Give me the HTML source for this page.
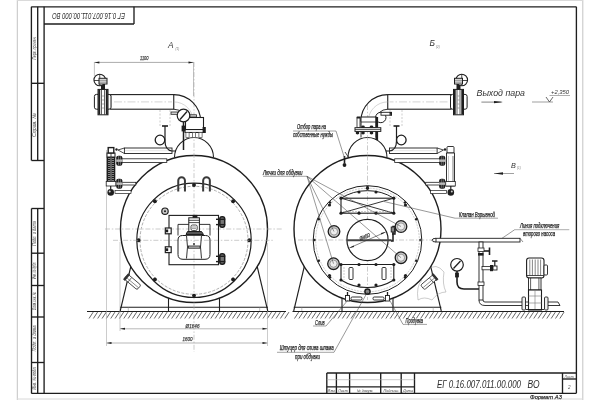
<!DOCTYPE html>
<html><head><meta charset="utf-8"><style>
html,body{margin:0;padding:0;background:#fff;width:600px;height:400px;overflow:hidden}
svg{display:block;will-change:transform}
text{font-family:"Liberation Sans",sans-serif}
</style></head><body>
<svg width="600" height="400" viewBox="0 0 600 400">
<rect width="600" height="400" fill="#fff"/>
<line x1="17.3" y1="0" x2="17.3" y2="400" stroke="#c4c4c4" stroke-width="1"/>
<line x1="582.8" y1="0" x2="582.8" y2="400" stroke="#c4c4c4" stroke-width="1"/>
<line x1="17" y1="0.5" x2="583" y2="0.5" stroke="#dadada" stroke-width="1"/>
<line x1="17" y1="399" x2="583" y2="399" stroke="#d8d8d8" stroke-width="1"/>
<line x1="31.3" y1="6.8" x2="576.4" y2="6.8" stroke="#1e1e1e" stroke-width="1.35"/>
<line x1="576.4" y1="6.8" x2="576.4" y2="393.3" stroke="#1e1e1e" stroke-width="1.35"/>
<line x1="31.3" y1="393.3" x2="576.4" y2="393.3" stroke="#1e1e1e" stroke-width="1.35"/>
<line x1="44.1" y1="6.8" x2="44.1" y2="393.3" stroke="#1e1e1e" stroke-width="1.35"/>
<line x1="31.4" y1="6.8" x2="31.4" y2="160.5" stroke="#1e1e1e" stroke-width="1.35"/>
<line x1="37.7" y1="6.8" x2="37.7" y2="160.5" stroke="#1e1e1e" stroke-width="1.35"/>
<line x1="31.5" y1="83.3" x2="44" y2="83.3" stroke="#1e1e1e" stroke-width="1.35"/>
<line x1="31.5" y1="160.5" x2="44" y2="160.5" stroke="#1e1e1e" stroke-width="1.35"/>
<line x1="31.5" y1="208.5" x2="31.5" y2="393.3" stroke="#1e1e1e" stroke-width="1.35"/>
<line x1="37.7" y1="208.5" x2="37.7" y2="393.3" stroke="#1e1e1e" stroke-width="1.35"/>
<line x1="31.5" y1="208.5" x2="44" y2="208.5" stroke="#1e1e1e" stroke-width="1.35"/>
<line x1="31.5" y1="253.2" x2="44" y2="253.2" stroke="#1e1e1e" stroke-width="1.35"/>
<line x1="31.5" y1="285.5" x2="44" y2="285.5" stroke="#1e1e1e" stroke-width="1.35"/>
<line x1="31.5" y1="317" x2="44" y2="317" stroke="#1e1e1e" stroke-width="1.35"/>
<line x1="31.5" y1="362.5" x2="44" y2="362.5" stroke="#1e1e1e" stroke-width="1.35"/>
<line x1="134" y1="6.8" x2="134" y2="24" stroke="#1e1e1e" stroke-width="1.35"/>
<line x1="44" y1="24" x2="134" y2="24" stroke="#1e1e1e" stroke-width="1.35"/>
<text x="52" y="19" font-size="8.2" text-anchor="start" fill="#2a2a2a" font-style="italic" font-weight="normal" transform="rotate(180 88.5 16)" textLength="73" lengthAdjust="spacingAndGlyphs">ЕГ 0.16.007.011.00.000  ВО</text>
<text x="-48" y="36.4" font-size="5" text-anchor="middle" fill="#444" font-style="italic" transform="rotate(-90)" textLength="23" lengthAdjust="spacingAndGlyphs">Перв. примен.</text>
<text x="-125" y="36.4" font-size="5" text-anchor="middle" fill="#444" font-style="italic" transform="rotate(-90)" textLength="24" lengthAdjust="spacingAndGlyphs">Справ. №</text>
<text x="-233.5" y="36.4" font-size="5" text-anchor="middle" fill="#444" font-style="italic" transform="rotate(-90)" textLength="25" lengthAdjust="spacingAndGlyphs">Подп. и дата</text>
<text x="-270.5" y="36.4" font-size="5" text-anchor="middle" fill="#444" font-style="italic" transform="rotate(-90)" textLength="17" lengthAdjust="spacingAndGlyphs">Инв. № дубл.</text>
<text x="-301" y="36.4" font-size="5" text-anchor="middle" fill="#444" font-style="italic" transform="rotate(-90)" textLength="18" lengthAdjust="spacingAndGlyphs">Взам. инв. №</text>
<text x="-338.5" y="36.4" font-size="5" text-anchor="middle" fill="#444" font-style="italic" transform="rotate(-90)" textLength="26" lengthAdjust="spacingAndGlyphs">Подп. и дата</text>
<text x="-378" y="36.4" font-size="5" text-anchor="middle" fill="#444" font-style="italic" transform="rotate(-90)" textLength="23" lengthAdjust="spacingAndGlyphs">Инв. № подл.</text>
<line x1="326.8" y1="373" x2="576" y2="373" stroke="#1e1e1e" stroke-width="1.35"/>
<line x1="326.8" y1="373" x2="326.8" y2="393.3" stroke="#1e1e1e" stroke-width="1.35"/>
<line x1="336.4" y1="373" x2="336.4" y2="393.3" stroke="#1e1e1e" stroke-width="1.35"/>
<line x1="349.6" y1="373" x2="349.6" y2="393.3" stroke="#1e1e1e" stroke-width="1.35"/>
<line x1="380.7" y1="373" x2="380.7" y2="393.3" stroke="#1e1e1e" stroke-width="1.35"/>
<line x1="401.2" y1="373" x2="401.2" y2="393.3" stroke="#1e1e1e" stroke-width="1.35"/>
<line x1="414.5" y1="373" x2="414.5" y2="393.3" stroke="#1e1e1e" stroke-width="1.35"/>
<line x1="326.8" y1="379.7" x2="414.5" y2="379.7" stroke="#aaa" stroke-width="0.6"/>
<line x1="326.8" y1="386.8" x2="414.5" y2="386.8" stroke="#1e1e1e" stroke-width="1.35"/>
<line x1="562.5" y1="373" x2="562.5" y2="393.3" stroke="#1e1e1e" stroke-width="1.35"/>
<line x1="562.5" y1="379" x2="576" y2="379" stroke="#1e1e1e" stroke-width="1.35"/>
<text x="331.6" y="391.6" font-size="3.8" text-anchor="middle" fill="#444" font-style="italic" font-weight="normal">Изм.</text>
<text x="343" y="391.6" font-size="3.8" text-anchor="middle" fill="#444" font-style="italic" font-weight="normal">Лист</text>
<text x="365" y="391.6" font-size="3.8" text-anchor="middle" fill="#444" font-style="italic" font-weight="normal">№ докум.</text>
<text x="391" y="391.6" font-size="3.8" text-anchor="middle" fill="#444" font-style="italic" font-weight="normal">Подпись</text>
<text x="408" y="391.6" font-size="3.8" text-anchor="middle" fill="#444" font-style="italic" font-weight="normal">Дата</text>
<text x="569.2" y="377.6" font-size="3.6" text-anchor="middle" fill="#555" font-style="italic" font-weight="normal">Лист</text>
<text x="569.2" y="388.5" font-size="4.5" text-anchor="middle" fill="#555" font-style="italic" font-weight="normal">2</text>
<text x="437" y="387.5" font-size="11.6" text-anchor="start" fill="#2a2a2a" font-style="italic" font-weight="normal" textLength="84" lengthAdjust="spacingAndGlyphs">ЕГ 0.16.007.011.00.000</text>
<text x="527.5" y="387.5" font-size="11.6" text-anchor="start" fill="#2a2a2a" font-style="italic" font-weight="normal" textLength="12" lengthAdjust="spacingAndGlyphs">ВО</text>
<text x="530" y="398.6" font-size="6.2" text-anchor="start" fill="#333" font-style="italic" font-weight="normal" stroke="#333" stroke-width="0.25" textLength="32" lengthAdjust="spacingAndGlyphs">Формат  А3</text>
<line x1="87" y1="311.5" x2="286" y2="311.5" stroke="#1e1e1e" stroke-width="1.1"/>
<line x1="89" y1="318.5" x2="93.2" y2="312.1" stroke="#333" stroke-width="0.75"/>
<line x1="93.35" y1="318.5" x2="97.55" y2="312.1" stroke="#333" stroke-width="0.75"/>
<line x1="97.69999999999999" y1="318.5" x2="101.89999999999999" y2="312.1" stroke="#333" stroke-width="0.75"/>
<line x1="102.04999999999998" y1="318.5" x2="106.24999999999999" y2="312.1" stroke="#333" stroke-width="0.75"/>
<line x1="106.39999999999998" y1="318.5" x2="110.59999999999998" y2="312.1" stroke="#333" stroke-width="0.75"/>
<line x1="110.74999999999997" y1="318.5" x2="114.94999999999997" y2="312.1" stroke="#333" stroke-width="0.75"/>
<line x1="115.09999999999997" y1="318.5" x2="119.29999999999997" y2="312.1" stroke="#333" stroke-width="0.75"/>
<line x1="119.44999999999996" y1="318.5" x2="123.64999999999996" y2="312.1" stroke="#333" stroke-width="0.75"/>
<line x1="123.79999999999995" y1="318.5" x2="127.99999999999996" y2="312.1" stroke="#333" stroke-width="0.75"/>
<line x1="128.14999999999995" y1="318.5" x2="132.34999999999994" y2="312.1" stroke="#333" stroke-width="0.75"/>
<line x1="132.49999999999994" y1="318.5" x2="136.69999999999993" y2="312.1" stroke="#333" stroke-width="0.75"/>
<line x1="136.84999999999994" y1="318.5" x2="141.04999999999993" y2="312.1" stroke="#333" stroke-width="0.75"/>
<line x1="141.19999999999993" y1="318.5" x2="145.39999999999992" y2="312.1" stroke="#333" stroke-width="0.75"/>
<line x1="145.54999999999993" y1="318.5" x2="149.74999999999991" y2="312.1" stroke="#333" stroke-width="0.75"/>
<line x1="149.89999999999992" y1="318.5" x2="154.0999999999999" y2="312.1" stroke="#333" stroke-width="0.75"/>
<line x1="154.24999999999991" y1="318.5" x2="158.4499999999999" y2="312.1" stroke="#333" stroke-width="0.75"/>
<line x1="158.5999999999999" y1="318.5" x2="162.7999999999999" y2="312.1" stroke="#333" stroke-width="0.75"/>
<line x1="162.9499999999999" y1="318.5" x2="167.1499999999999" y2="312.1" stroke="#333" stroke-width="0.75"/>
<line x1="167.2999999999999" y1="318.5" x2="171.4999999999999" y2="312.1" stroke="#333" stroke-width="0.75"/>
<line x1="171.6499999999999" y1="318.5" x2="175.84999999999988" y2="312.1" stroke="#333" stroke-width="0.75"/>
<line x1="175.9999999999999" y1="318.5" x2="180.19999999999987" y2="312.1" stroke="#333" stroke-width="0.75"/>
<line x1="180.34999999999988" y1="318.5" x2="184.54999999999987" y2="312.1" stroke="#333" stroke-width="0.75"/>
<line x1="184.69999999999987" y1="318.5" x2="188.89999999999986" y2="312.1" stroke="#333" stroke-width="0.75"/>
<line x1="189.04999999999987" y1="318.5" x2="193.24999999999986" y2="312.1" stroke="#333" stroke-width="0.75"/>
<line x1="193.39999999999986" y1="318.5" x2="197.59999999999985" y2="312.1" stroke="#333" stroke-width="0.75"/>
<line x1="197.74999999999986" y1="318.5" x2="201.94999999999985" y2="312.1" stroke="#333" stroke-width="0.75"/>
<line x1="202.09999999999985" y1="318.5" x2="206.29999999999984" y2="312.1" stroke="#333" stroke-width="0.75"/>
<line x1="206.44999999999985" y1="318.5" x2="210.64999999999984" y2="312.1" stroke="#333" stroke-width="0.75"/>
<line x1="210.79999999999984" y1="318.5" x2="214.99999999999983" y2="312.1" stroke="#333" stroke-width="0.75"/>
<line x1="215.14999999999984" y1="318.5" x2="219.34999999999982" y2="312.1" stroke="#333" stroke-width="0.75"/>
<line x1="219.49999999999983" y1="318.5" x2="223.69999999999982" y2="312.1" stroke="#333" stroke-width="0.75"/>
<line x1="223.84999999999982" y1="318.5" x2="228.0499999999998" y2="312.1" stroke="#333" stroke-width="0.75"/>
<line x1="228.19999999999982" y1="318.5" x2="232.3999999999998" y2="312.1" stroke="#333" stroke-width="0.75"/>
<line x1="232.5499999999998" y1="318.5" x2="236.7499999999998" y2="312.1" stroke="#333" stroke-width="0.75"/>
<line x1="236.8999999999998" y1="318.5" x2="241.0999999999998" y2="312.1" stroke="#333" stroke-width="0.75"/>
<line x1="241.2499999999998" y1="318.5" x2="245.4499999999998" y2="312.1" stroke="#333" stroke-width="0.75"/>
<line x1="245.5999999999998" y1="318.5" x2="249.79999999999978" y2="312.1" stroke="#333" stroke-width="0.75"/>
<line x1="249.9499999999998" y1="318.5" x2="254.14999999999978" y2="312.1" stroke="#333" stroke-width="0.75"/>
<line x1="254.29999999999978" y1="318.5" x2="258.4999999999998" y2="312.1" stroke="#333" stroke-width="0.75"/>
<line x1="258.6499999999998" y1="318.5" x2="262.8499999999998" y2="312.1" stroke="#333" stroke-width="0.75"/>
<line x1="262.99999999999983" y1="318.5" x2="267.1999999999998" y2="312.1" stroke="#333" stroke-width="0.75"/>
<line x1="267.34999999999985" y1="318.5" x2="271.54999999999984" y2="312.1" stroke="#333" stroke-width="0.75"/>
<line x1="271.6999999999999" y1="318.5" x2="275.89999999999986" y2="312.1" stroke="#333" stroke-width="0.75"/>
<line x1="276.0499999999999" y1="318.5" x2="280.2499999999999" y2="312.1" stroke="#333" stroke-width="0.75"/>
<line x1="280.3999999999999" y1="318.5" x2="284.5999999999999" y2="312.1" stroke="#333" stroke-width="0.75"/>
<line x1="284.74999999999994" y1="318.5" x2="288.94999999999993" y2="312.1" stroke="#333" stroke-width="0.75"/>
<line x1="292.5" y1="311.5" x2="564" y2="311.5" stroke="#1e1e1e" stroke-width="1.1"/>
<line x1="294.5" y1="318.5" x2="298.7" y2="312.1" stroke="#333" stroke-width="0.75"/>
<line x1="298.85" y1="318.5" x2="303.05" y2="312.1" stroke="#333" stroke-width="0.75"/>
<line x1="303.20000000000005" y1="318.5" x2="307.40000000000003" y2="312.1" stroke="#333" stroke-width="0.75"/>
<line x1="307.55000000000007" y1="318.5" x2="311.75000000000006" y2="312.1" stroke="#333" stroke-width="0.75"/>
<line x1="311.9000000000001" y1="318.5" x2="316.1000000000001" y2="312.1" stroke="#333" stroke-width="0.75"/>
<line x1="316.2500000000001" y1="318.5" x2="320.4500000000001" y2="312.1" stroke="#333" stroke-width="0.75"/>
<line x1="320.60000000000014" y1="318.5" x2="324.8000000000001" y2="312.1" stroke="#333" stroke-width="0.75"/>
<line x1="324.95000000000016" y1="318.5" x2="329.15000000000015" y2="312.1" stroke="#333" stroke-width="0.75"/>
<line x1="329.3000000000002" y1="318.5" x2="333.50000000000017" y2="312.1" stroke="#333" stroke-width="0.75"/>
<line x1="333.6500000000002" y1="318.5" x2="337.8500000000002" y2="312.1" stroke="#333" stroke-width="0.75"/>
<line x1="338.0000000000002" y1="318.5" x2="342.2000000000002" y2="312.1" stroke="#333" stroke-width="0.75"/>
<line x1="342.35000000000025" y1="318.5" x2="346.55000000000024" y2="312.1" stroke="#333" stroke-width="0.75"/>
<line x1="346.7000000000003" y1="318.5" x2="350.90000000000026" y2="312.1" stroke="#333" stroke-width="0.75"/>
<line x1="351.0500000000003" y1="318.5" x2="355.2500000000003" y2="312.1" stroke="#333" stroke-width="0.75"/>
<line x1="355.4000000000003" y1="318.5" x2="359.6000000000003" y2="312.1" stroke="#333" stroke-width="0.75"/>
<line x1="359.75000000000034" y1="318.5" x2="363.95000000000033" y2="312.1" stroke="#333" stroke-width="0.75"/>
<line x1="364.10000000000036" y1="318.5" x2="368.30000000000035" y2="312.1" stroke="#333" stroke-width="0.75"/>
<line x1="368.4500000000004" y1="318.5" x2="372.6500000000004" y2="312.1" stroke="#333" stroke-width="0.75"/>
<line x1="372.8000000000004" y1="318.5" x2="377.0000000000004" y2="312.1" stroke="#333" stroke-width="0.75"/>
<line x1="377.15000000000043" y1="318.5" x2="381.3500000000004" y2="312.1" stroke="#333" stroke-width="0.75"/>
<line x1="381.50000000000045" y1="318.5" x2="385.70000000000044" y2="312.1" stroke="#333" stroke-width="0.75"/>
<line x1="385.8500000000005" y1="318.5" x2="390.05000000000047" y2="312.1" stroke="#333" stroke-width="0.75"/>
<line x1="390.2000000000005" y1="318.5" x2="394.4000000000005" y2="312.1" stroke="#333" stroke-width="0.75"/>
<line x1="394.5500000000005" y1="318.5" x2="398.7500000000005" y2="312.1" stroke="#333" stroke-width="0.75"/>
<line x1="398.90000000000055" y1="318.5" x2="403.10000000000053" y2="312.1" stroke="#333" stroke-width="0.75"/>
<line x1="403.25000000000057" y1="318.5" x2="407.45000000000056" y2="312.1" stroke="#333" stroke-width="0.75"/>
<line x1="407.6000000000006" y1="318.5" x2="411.8000000000006" y2="312.1" stroke="#333" stroke-width="0.75"/>
<line x1="411.9500000000006" y1="318.5" x2="416.1500000000006" y2="312.1" stroke="#333" stroke-width="0.75"/>
<line x1="416.30000000000064" y1="318.5" x2="420.5000000000006" y2="312.1" stroke="#333" stroke-width="0.75"/>
<line x1="420.65000000000066" y1="318.5" x2="424.85000000000065" y2="312.1" stroke="#333" stroke-width="0.75"/>
<line x1="425.0000000000007" y1="318.5" x2="429.20000000000067" y2="312.1" stroke="#333" stroke-width="0.75"/>
<line x1="429.3500000000007" y1="318.5" x2="433.5500000000007" y2="312.1" stroke="#333" stroke-width="0.75"/>
<line x1="433.7000000000007" y1="318.5" x2="437.9000000000007" y2="312.1" stroke="#333" stroke-width="0.75"/>
<line x1="438.05000000000075" y1="318.5" x2="442.25000000000074" y2="312.1" stroke="#333" stroke-width="0.75"/>
<line x1="442.4000000000008" y1="318.5" x2="446.60000000000076" y2="312.1" stroke="#333" stroke-width="0.75"/>
<line x1="446.7500000000008" y1="318.5" x2="450.9500000000008" y2="312.1" stroke="#333" stroke-width="0.75"/>
<line x1="451.1000000000008" y1="318.5" x2="455.3000000000008" y2="312.1" stroke="#333" stroke-width="0.75"/>
<line x1="455.45000000000084" y1="318.5" x2="459.65000000000083" y2="312.1" stroke="#333" stroke-width="0.75"/>
<line x1="459.80000000000086" y1="318.5" x2="464.00000000000085" y2="312.1" stroke="#333" stroke-width="0.75"/>
<line x1="464.1500000000009" y1="318.5" x2="468.3500000000009" y2="312.1" stroke="#333" stroke-width="0.75"/>
<line x1="468.5000000000009" y1="318.5" x2="472.7000000000009" y2="312.1" stroke="#333" stroke-width="0.75"/>
<line x1="472.85000000000093" y1="318.5" x2="477.0500000000009" y2="312.1" stroke="#333" stroke-width="0.75"/>
<line x1="477.20000000000095" y1="318.5" x2="481.40000000000094" y2="312.1" stroke="#333" stroke-width="0.75"/>
<line x1="481.550000000001" y1="318.5" x2="485.75000000000097" y2="312.1" stroke="#333" stroke-width="0.75"/>
<line x1="485.900000000001" y1="318.5" x2="490.100000000001" y2="312.1" stroke="#333" stroke-width="0.75"/>
<line x1="490.250000000001" y1="318.5" x2="494.450000000001" y2="312.1" stroke="#333" stroke-width="0.75"/>
<line x1="494.60000000000105" y1="318.5" x2="498.80000000000103" y2="312.1" stroke="#333" stroke-width="0.75"/>
<line x1="498.95000000000107" y1="318.5" x2="503.15000000000106" y2="312.1" stroke="#333" stroke-width="0.75"/>
<line x1="503.3000000000011" y1="318.5" x2="507.5000000000011" y2="312.1" stroke="#333" stroke-width="0.75"/>
<line x1="507.6500000000011" y1="318.5" x2="511.8500000000011" y2="312.1" stroke="#333" stroke-width="0.75"/>
<line x1="512.0000000000011" y1="318.5" x2="516.2000000000012" y2="312.1" stroke="#333" stroke-width="0.75"/>
<line x1="516.3500000000012" y1="318.5" x2="520.5500000000012" y2="312.1" stroke="#333" stroke-width="0.75"/>
<line x1="520.7000000000012" y1="318.5" x2="524.9000000000012" y2="312.1" stroke="#333" stroke-width="0.75"/>
<line x1="525.0500000000012" y1="318.5" x2="529.2500000000013" y2="312.1" stroke="#333" stroke-width="0.75"/>
<line x1="529.4000000000012" y1="318.5" x2="533.6000000000013" y2="312.1" stroke="#333" stroke-width="0.75"/>
<line x1="533.7500000000013" y1="318.5" x2="537.9500000000013" y2="312.1" stroke="#333" stroke-width="0.75"/>
<line x1="538.1000000000013" y1="318.5" x2="542.3000000000013" y2="312.1" stroke="#333" stroke-width="0.75"/>
<line x1="542.4500000000013" y1="318.5" x2="546.6500000000013" y2="312.1" stroke="#333" stroke-width="0.75"/>
<line x1="546.8000000000013" y1="318.5" x2="551.0000000000014" y2="312.1" stroke="#333" stroke-width="0.75"/>
<line x1="551.1500000000013" y1="318.5" x2="555.3500000000014" y2="312.1" stroke="#333" stroke-width="0.75"/>
<line x1="555.5000000000014" y1="318.5" x2="559.7000000000014" y2="312.1" stroke="#333" stroke-width="0.75"/>
<line x1="559.8500000000014" y1="318.5" x2="564.0500000000014" y2="312.1" stroke="#333" stroke-width="0.75"/>
<line x1="94.4" y1="62.4" x2="193.5" y2="62.4" stroke="#888" stroke-width="0.7"/>
<polygon points="94.4,62.4 99.4,61.4 99.4,63.4" fill="#1e1e1e"/>
<polygon points="193.5,62.4 188.5,61.4 188.5,63.4" fill="#1e1e1e"/>
<line x1="94.4" y1="62" x2="94.4" y2="76" stroke="#999" stroke-width="0.6"/>
<line x1="193.5" y1="62" x2="193.5" y2="96" stroke="#999" stroke-width="0.6"/>
<text x="140" y="60.4" font-size="6" text-anchor="start" fill="#444" font-style="italic" font-weight="normal" stroke="#444" stroke-width="0.25" textLength="8.5" lengthAdjust="spacingAndGlyphs">1100</text>
<line x1="120" y1="328.8" x2="267.5" y2="328.8" stroke="#999" stroke-width="0.7"/>
<polygon points="120,328.8 125,327.8 125,329.8" fill="#1e1e1e"/>
<polygon points="267.5,328.8 262.5,327.8 262.5,329.8" fill="#1e1e1e"/>
<line x1="106.5" y1="343" x2="267.5" y2="343" stroke="#999" stroke-width="0.7"/>
<polygon points="106.5,343 111.5,342 111.5,344" fill="#1e1e1e"/>
<polygon points="267.5,343 262.5,342 262.5,344" fill="#1e1e1e"/>
<line x1="106.5" y1="150" x2="106.5" y2="346" stroke="#aaa" stroke-width="0.6"/>
<line x1="120" y1="242" x2="120" y2="331" stroke="#aaa" stroke-width="0.6"/>
<line x1="267.5" y1="243" x2="267.5" y2="346" stroke="#aaa" stroke-width="0.6"/>
<text x="185.5" y="327.5" font-size="6" text-anchor="start" fill="#444" font-style="italic" font-weight="normal" stroke="#444" stroke-width="0.25" textLength="14" lengthAdjust="spacingAndGlyphs">Ø1646</text>
<text x="182.5" y="340.5" font-size="6" text-anchor="start" fill="#444" font-style="italic" font-weight="normal" stroke="#444" stroke-width="0.25" textLength="10" lengthAdjust="spacingAndGlyphs">1600</text>
<text x="168" y="48.2" font-size="8.4" text-anchor="start" fill="#333" font-style="italic" font-weight="normal">А</text>
<text x="175.5" y="50" font-size="3" text-anchor="start" fill="#777" font-style="italic" font-weight="normal">(1)</text>
<text x="429.5" y="46.2" font-size="8.4" text-anchor="start" fill="#333" font-style="italic" font-weight="normal">Б</text>
<text x="436" y="48" font-size="3" text-anchor="start" fill="#777" font-style="italic" font-weight="normal">(2)</text>
<text x="511" y="167.5" font-size="7.2" text-anchor="start" fill="#333" font-style="italic" font-weight="normal">В</text>
<text x="517" y="169" font-size="3" text-anchor="start" fill="#777" font-style="italic" font-weight="normal">(1)</text>
<line x1="481.4" y1="102.1" x2="501.5" y2="102.1" stroke="#666" stroke-width="0.8"/>
<polygon points="503,102.1 494,100.9 494,103.3" fill="#1e1e1e"/>
<line x1="494" y1="173.5" x2="514" y2="173.5" stroke="#888" stroke-width="0.8"/>
<polygon points="494,173.5 503,172.3 503,174.7" fill="#1e1e1e"/>
<text x="476.5" y="96.2" font-size="9.6" text-anchor="start" fill="#333" font-style="italic" font-weight="normal" textLength="48.5" lengthAdjust="spacingAndGlyphs">Выход пара</text>
<line x1="532" y1="102" x2="553" y2="102" stroke="#777" stroke-width="0.7"/>
<polyline points="546,97 549.5,102 553,97" stroke="#444" stroke-width="0.8" fill="none"/>
<line x1="549.5" y1="95.5" x2="570" y2="95.5" stroke="#777" stroke-width="0.6"/>
<text x="551" y="94.2" font-size="5.4" text-anchor="start" fill="#333" font-style="italic" font-weight="normal" textLength="18" lengthAdjust="spacingAndGlyphs">+2,350</text>
<polyline points="120.2,311 131.4,264" stroke="#1e1e1e" stroke-width="1.1" fill="none"/>
<polyline points="267.8,311 256.6,264" stroke="#1e1e1e" stroke-width="1.1" fill="none"/>
<line x1="120.2" y1="307.3" x2="267.8" y2="307.3" stroke="#1e1e1e" stroke-width="1.1"/>
<line x1="168.5" y1="297" x2="168.5" y2="311" stroke="#1e1e1e" stroke-width="1.1"/>
<line x1="219.5" y1="297" x2="219.5" y2="311" stroke="#1e1e1e" stroke-width="1.1"/>
<line x1="128.3" y1="307.3" x2="128.3" y2="311" stroke="#888" stroke-width="0.5"/>
<line x1="259.7" y1="307.3" x2="259.7" y2="311" stroke="#888" stroke-width="0.5"/>
<circle cx="194" cy="229" r="73.5" stroke="#1e1e1e" stroke-width="1.4" fill="#fff"/>
<path d="M174.5,157.5 A19.5,20 0 0 1 213.5,157.5" stroke="#1e1e1e" stroke-width="1.1" fill="none"/>
<rect x="124.4" y="148" width="47.6" height="5.5" rx="0" stroke="#1e1e1e" stroke-width="0.9" fill="#fff"/>
<line x1="124.4" y1="150.7" x2="172" y2="150.7" stroke="#bbb" stroke-width="0.4"/>
<path d="M124.4,148 L118,150 L124.4,153.5" stroke="#1e1e1e" stroke-width="0.8" fill="none"/>
<circle cx="116.5" cy="149.5" r="1.2" fill="#1e1e1e"/>
<rect x="121" y="158.8" width="45.8" height="3.7" rx="0" stroke="#1e1e1e" stroke-width="0.8" fill="#fff"/>
<rect x="116.2" y="155.65" width="6.2" height="10" rx="2.2" fill="#1e1e1e"/>
<rect x="118.0" y="156.15" width="0.7" height="9" fill="#888"/><rect x="119.89999999999999" y="156.15" width="0.7" height="9" fill="#888"/>
<rect x="116.2" y="159.45000000000002" width="6.2" height="2.4" fill="#bbb"/>
<rect x="121" y="182.3" width="14.8" height="2.7" rx="0" stroke="#1e1e1e" stroke-width="0.8" fill="#fff"/>
<rect x="116.2" y="178.65" width="6.2" height="10" rx="2.2" fill="#1e1e1e"/>
<rect x="118.0" y="179.15" width="0.7" height="9" fill="#888"/><rect x="119.89999999999999" y="179.15" width="0.7" height="9" fill="#888"/>
<rect x="116.2" y="182.45000000000002" width="6.2" height="2.4" fill="#bbb"/>
<rect x="115" y="190.5" width="16" height="3.0" rx="0" stroke="#1e1e1e" stroke-width="0.7" fill="#fff"/>
<circle cx="110.7" cy="192.4" r="3.3" fill="#1e1e1e"/>
<circle cx="109.7" cy="191.4" r="1.0" fill="#ccc"/>
<line x1="110.7" y1="186" x2="110.7" y2="189" stroke="#1e1e1e" stroke-width="1.2"/>
<rect x="107" y="153" width="8" height="4" rx="0" stroke="#1e1e1e" stroke-width="1.0" fill="#fff"/>
<line x1="111.0" y1="153" x2="111.0" y2="157" stroke="#1e1e1e" stroke-width="0.8"/>
<rect x="106.7" y="157" width="8.6" height="24.5" fill="#1e1e1e"/>
<line x1="111.0" y1="157.5" x2="111.0" y2="181" stroke="#eee" stroke-width="0.6"/>
<line x1="108" y1="158.5" x2="110.2" y2="158.5" stroke="#ccc" stroke-width="0.6"/>
<line x1="111.8" y1="158.5" x2="114" y2="158.5" stroke="#ccc" stroke-width="0.6"/>
<line x1="108" y1="160.5" x2="110.2" y2="160.5" stroke="#ccc" stroke-width="0.6"/>
<line x1="111.8" y1="160.5" x2="114" y2="160.5" stroke="#ccc" stroke-width="0.6"/>
<line x1="108" y1="162.5" x2="110.2" y2="162.5" stroke="#ccc" stroke-width="0.6"/>
<line x1="111.8" y1="162.5" x2="114" y2="162.5" stroke="#ccc" stroke-width="0.6"/>
<line x1="108" y1="164.5" x2="110.2" y2="164.5" stroke="#ccc" stroke-width="0.6"/>
<line x1="111.8" y1="164.5" x2="114" y2="164.5" stroke="#ccc" stroke-width="0.6"/>
<line x1="108" y1="166.5" x2="110.2" y2="166.5" stroke="#ccc" stroke-width="0.6"/>
<line x1="111.8" y1="166.5" x2="114" y2="166.5" stroke="#ccc" stroke-width="0.6"/>
<line x1="108" y1="168.5" x2="110.2" y2="168.5" stroke="#ccc" stroke-width="0.6"/>
<line x1="111.8" y1="168.5" x2="114" y2="168.5" stroke="#ccc" stroke-width="0.6"/>
<line x1="108" y1="170.5" x2="110.2" y2="170.5" stroke="#ccc" stroke-width="0.6"/>
<line x1="111.8" y1="170.5" x2="114" y2="170.5" stroke="#ccc" stroke-width="0.6"/>
<line x1="108" y1="172.5" x2="110.2" y2="172.5" stroke="#ccc" stroke-width="0.6"/>
<line x1="111.8" y1="172.5" x2="114" y2="172.5" stroke="#ccc" stroke-width="0.6"/>
<line x1="108" y1="174.5" x2="110.2" y2="174.5" stroke="#ccc" stroke-width="0.6"/>
<line x1="111.8" y1="174.5" x2="114" y2="174.5" stroke="#ccc" stroke-width="0.6"/>
<line x1="108" y1="176.5" x2="110.2" y2="176.5" stroke="#ccc" stroke-width="0.6"/>
<line x1="111.8" y1="176.5" x2="114" y2="176.5" stroke="#ccc" stroke-width="0.6"/>
<line x1="108" y1="178.5" x2="110.2" y2="178.5" stroke="#ccc" stroke-width="0.6"/>
<line x1="111.8" y1="178.5" x2="114" y2="178.5" stroke="#ccc" stroke-width="0.6"/>
<line x1="108" y1="180.5" x2="110.2" y2="180.5" stroke="#ccc" stroke-width="0.6"/>
<line x1="111.8" y1="180.5" x2="114" y2="180.5" stroke="#ccc" stroke-width="0.6"/>
<rect x="108.2" y="147.6" width="5.6" height="5.4" rx="0" stroke="#1e1e1e" stroke-width="1.4" fill="#fff"/>
<rect x="106.2" y="181.5" width="9.6" height="4.5" rx="0" stroke="#1e1e1e" stroke-width="0.8" fill="#fff"/>
<line x1="194" y1="62" x2="194" y2="352" stroke="#a8a8a8" stroke-width="0.6" stroke-dasharray="5 1.8 1.5 1.8"/>
<line x1="105" y1="229" x2="283" y2="229" stroke="#a8a8a8" stroke-width="0.6" stroke-dasharray="5 1.8 1.5 1.8"/>
<polyline points="441.3,311 430.1,264" stroke="#1e1e1e" stroke-width="1.1" fill="none"/>
<polyline points="293.7,311 304.9,264" stroke="#1e1e1e" stroke-width="1.1" fill="none"/>
<line x1="293.7" y1="307.3" x2="441.3" y2="307.3" stroke="#1e1e1e" stroke-width="1.1"/>
<line x1="393.0" y1="297" x2="393.0" y2="311" stroke="#1e1e1e" stroke-width="1.1"/>
<line x1="342.0" y1="297" x2="342.0" y2="311" stroke="#1e1e1e" stroke-width="1.1"/>
<line x1="433.2" y1="307.3" x2="433.2" y2="311" stroke="#888" stroke-width="0.5"/>
<line x1="301.8" y1="307.3" x2="301.8" y2="311" stroke="#888" stroke-width="0.5"/>
<circle cx="367.5" cy="229" r="73.5" stroke="#1e1e1e" stroke-width="1.4" fill="#fff"/>
<path d="M348.0,157.5 A19.5,20 0 0 1 387.0,157.5" stroke="#1e1e1e" stroke-width="1.1" fill="none"/>
<rect x="389.5" y="148" width="47.6" height="5.5" rx="0" stroke="#1e1e1e" stroke-width="0.9" fill="#fff"/>
<line x1="389.5" y1="150.7" x2="437.1" y2="150.7" stroke="#bbb" stroke-width="0.4"/>
<path d="M437.1,148 L443.5,150 L437.1,153.5" stroke="#1e1e1e" stroke-width="0.8" fill="none"/>
<rect x="447.0" y="146.5" width="7.0" height="6.5" rx="1" stroke="#1e1e1e" stroke-width="0.9" fill="#fff"/>
<circle cx="445.0" cy="149.5" r="1.2" fill="#1e1e1e"/>
<rect x="394.7" y="158.8" width="45.8" height="3.7" rx="0" stroke="#1e1e1e" stroke-width="0.8" fill="#fff"/>
<rect x="439.09999999999997" y="155.65" width="6.2" height="10" rx="2.2" fill="#1e1e1e"/>
<rect x="440.9" y="156.15" width="0.7" height="9" fill="#888"/><rect x="442.8" y="156.15" width="0.7" height="9" fill="#888"/>
<rect x="439.09999999999997" y="159.45000000000002" width="6.2" height="2.4" fill="#bbb"/>
<rect x="425.7" y="182.3" width="14.8" height="2.7" rx="0" stroke="#1e1e1e" stroke-width="0.8" fill="#fff"/>
<rect x="439.09999999999997" y="178.65" width="6.2" height="10" rx="2.2" fill="#1e1e1e"/>
<rect x="440.9" y="179.15" width="0.7" height="9" fill="#888"/><rect x="442.8" y="179.15" width="0.7" height="9" fill="#888"/>
<rect x="439.09999999999997" y="182.45000000000002" width="6.2" height="2.4" fill="#bbb"/>
<rect x="430.5" y="190.5" width="16.0" height="3.0" rx="0" stroke="#1e1e1e" stroke-width="0.7" fill="#fff"/>
<circle cx="450.8" cy="192.4" r="3.3" fill="#1e1e1e"/>
<circle cx="451.8" cy="191.4" r="1.0" fill="#ccc"/>
<line x1="450.8" y1="186" x2="450.8" y2="189" stroke="#1e1e1e" stroke-width="1.2"/>
<rect x="446.5" y="153" width="8.0" height="33" rx="0" stroke="#1e1e1e" stroke-width="0.9" fill="#fff"/>
<line x1="448.5" y1="156" x2="448.5" y2="184" stroke="#999" stroke-width="0.5"/>
<line x1="453.0" y1="156" x2="453.0" y2="184" stroke="#444" stroke-width="0.7"/>
<rect x="445.7" y="181.5" width="9.6" height="4.5" rx="0" stroke="#1e1e1e" stroke-width="0.8" fill="#fff"/>
<line x1="367.5" y1="105" x2="367.5" y2="300" stroke="#a8a8a8" stroke-width="0.6" stroke-dasharray="5 1.8 1.5 1.8"/>
<circle cx="194" cy="240.3" r="57.2" stroke="#1e1e1e" stroke-width="1.2" fill="none"/>
<circle cx="194" cy="240.3" r="54" stroke="#999" stroke-width="0.8" fill="none" stroke-dasharray="3 1.5"/>
<circle cx="194.0" cy="185.0" r="1.95" fill="#1e1e1e"/>
<circle cx="233.1" cy="201.2" r="1.95" fill="#1e1e1e"/>
<circle cx="249.3" cy="240.3" r="1.95" fill="#1e1e1e"/>
<circle cx="233.1" cy="279.4" r="1.95" fill="#1e1e1e"/>
<circle cx="194.0" cy="295.6" r="1.95" fill="#1e1e1e"/>
<circle cx="154.9" cy="279.4" r="1.95" fill="#1e1e1e"/>
<circle cx="138.7" cy="240.3" r="1.95" fill="#1e1e1e"/>
<circle cx="154.9" cy="201.2" r="1.95" fill="#1e1e1e"/>
<line x1="113" y1="240.3" x2="274" y2="240.3" stroke="#a8a8a8" stroke-width="0.6" stroke-dasharray="5 1.8 1.5 1.8"/>
<path d="M178.25,191.5 L178.25,180.5 A3.35,3.35 0 0 1 184.95,180.5 L184.95,191.5" stroke="#3a3a3a" stroke-width="2.0" fill="none"/>
<path d="M203.15,191.5 L203.15,180.5 A3.35,3.35 0 0 1 209.85,180.5 L209.85,191.5" stroke="#3a3a3a" stroke-width="2.0" fill="none"/>
<circle cx="165" cy="211.2" r="3.2" stroke="#1e1e1e" stroke-width="1.2" fill="#ccc"/>
<circle cx="165" cy="211.2" r="1" fill="#1e1e1e"/>
<rect x="169" y="215.4" width="49.5" height="49.3" rx="0" stroke="#1e1e1e" stroke-width="1.1" fill="none"/>
<rect x="193" y="215.3" width="4" height="2.7" rx="0" stroke="#1e1e1e" stroke-width="0.8" fill="#1e1e1e"/>
<rect x="188.8" y="217.8" width="10.6" height="14.2" rx="0" stroke="#1e1e1e" stroke-width="1.0" fill="#fff"/>
<line x1="188.8" y1="220.3" x2="199.4" y2="220.3" stroke="#1e1e1e" stroke-width="0.8"/>
<line x1="188.8" y1="222.6" x2="199.4" y2="222.6" stroke="#1e1e1e" stroke-width="0.8"/>
<rect x="191" y="225" width="6.2" height="5.5" rx="1.5" stroke="#1e1e1e" stroke-width="0.8" fill="#fff"/>
<line x1="192" y1="227" x2="196" y2="227" stroke="#555" stroke-width="0.6"/>
<line x1="192" y1="228.6" x2="196" y2="228.6" stroke="#555" stroke-width="0.6"/>
<path d="M186,234.5 L187.5,231.5 L201.5,231.5 L203.5,234.5 Z" stroke="#1e1e1e" stroke-width="1" fill="#555"/>
<line x1="178" y1="224.4" x2="178" y2="235.5" stroke="#1e1e1e" stroke-width="0.9"/>
<line x1="210" y1="224.4" x2="210" y2="235.5" stroke="#1e1e1e" stroke-width="0.9"/>
<line x1="178" y1="224.4" x2="188.8" y2="224.4" stroke="#1e1e1e" stroke-width="0.9"/>
<line x1="199.4" y1="224.4" x2="210" y2="224.4" stroke="#1e1e1e" stroke-width="0.9"/>
<path d="M186.5,235.5 L182.5,235.5 Q178,235.5 178,240 L178,254.5 Q178,259.3 183,259.3 L205,259.3 Q210,259.3 210,254.5 L210,240 Q210,235.5 205.5,235.5 L201.5,235.5" stroke="#1e1e1e" stroke-width="1.0" fill="none"/>
<path d="M186.5,235.5 Q188.5,247 186.5,258.5" stroke="#1e1e1e" stroke-width="0.9" fill="none"/>
<path d="M201.5,235.5 Q199.5,247 201.5,258.5" stroke="#1e1e1e" stroke-width="0.9" fill="none"/>
<line x1="186.5" y1="235.5" x2="201.5" y2="235.5" stroke="#1e1e1e" stroke-width="0.8"/>
<rect x="188.5" y="246" width="11.5" height="2.2" rx="0" stroke="#1e1e1e" stroke-width="0.8" fill="#bbb"/>
<circle cx="194" cy="244" r="0.9" fill="#1e1e1e"/>
<rect x="165.3" y="228.0" width="5.9" height="5.8" rx="0" stroke="#1e1e1e" stroke-width="1.2" fill="#fff"/>
<rect x="165.6" y="229.5" width="2.6" height="2.8" fill="#1e1e1e"/>
<rect x="165.3" y="246.79999999999998" width="5.9" height="5.8" rx="0" stroke="#1e1e1e" stroke-width="1.2" fill="#fff"/>
<rect x="165.6" y="248.29999999999998" width="2.6" height="2.8" fill="#1e1e1e"/>
<rect x="219.8" y="216.7" width="4.9" height="10.6" rx="2.2" stroke="#1e1e1e" stroke-width="1.5" fill="#777"/>
<line x1="216" y1="219.3" x2="225.2" y2="219.3" stroke="#1e1e1e" stroke-width="1.4"/>
<line x1="216" y1="224.6" x2="225.2" y2="224.6" stroke="#1e1e1e" stroke-width="1.4"/>
<rect x="219.8" y="253.7" width="4.9" height="10.6" rx="2.2" stroke="#1e1e1e" stroke-width="1.5" fill="#777"/>
<line x1="216" y1="256.3" x2="225.2" y2="256.3" stroke="#1e1e1e" stroke-width="1.4"/>
<line x1="216" y1="261.6" x2="225.2" y2="261.6" stroke="#1e1e1e" stroke-width="1.4"/>
<g transform="rotate(40 132.5 282)"><rect x="124" y="279" width="17" height="6" rx="1.5" stroke="#444" stroke-width="0.9" fill="#fff"/><rect x="123.5" y="278" width="2.5" height="8" fill="#333"/><line x1="126" y1="282.5" x2="141" y2="282.5" stroke="#555" stroke-width="0.6"/><line x1="129" y1="279.5" x2="129" y2="285.5" stroke="#333" stroke-width="0.7"/></g>
<rect x="110.6" y="94.6" width="63.15" height="14.6" rx="0" stroke="#1e1e1e" stroke-width="1.1" fill="#fff"/>
<line x1="114" y1="101.9" x2="172" y2="101.9" stroke="#aaa" stroke-width="0.5" stroke-dasharray="8 2 1.5 2"/>
<path d="M173.75,94.6 A26.9,26.9 0 0 1 200.65,121.5" stroke="#1e1e1e" stroke-width="1.1" fill="none"/>
<path d="M173.75,109.2 A12.3,12.3 0 0 1 186.05,121.5" stroke="#1e1e1e" stroke-width="0.9" fill="none"/>
<path d="M173.75,101.9 A19.6,19.6 0 0 1 193.35,121.5" stroke="#aaa" stroke-width="0.5" fill="none"/>
<rect x="185.5" y="117.5" width="18.0" height="13.5" rx="0" stroke="#1e1e1e" stroke-width="1.1" fill="#fff"/>
<rect x="185" y="129.5" width="19" height="3.0" rx="0" stroke="#1e1e1e" stroke-width="1.0" fill="#eee"/>
<rect x="202.6" y="127" width="3.2" height="6" fill="#1e1e1e"/>
<rect x="185.9" y="132.5" width="3.2" height="5.0" rx="0" stroke="#444" stroke-width="0.7" fill="#fff"/>
<rect x="192.4" y="132.5" width="3.2" height="5.0" rx="0" stroke="#444" stroke-width="0.7" fill="#fff"/>
<rect x="198.9" y="132.5" width="3.2" height="5.0" rx="0" stroke="#444" stroke-width="0.7" fill="#fff"/>
<rect x="94.4" y="94.4" width="16.6" height="14.8" rx="2" stroke="#1e1e1e" stroke-width="1.0" fill="#fff"/>
<rect x="98" y="89.4" width="10" height="25.4" rx="0" stroke="#1e1e1e" stroke-width="1.0" fill="#fff"/>
<rect x="98.2" y="89.6" width="2" height="25" fill="#1e1e1e"/>
<rect x="105.8" y="89.6" width="2" height="25" fill="#1e1e1e"/>
<line x1="101.5" y1="89.8" x2="101.5" y2="114.5" stroke="#1e1e1e" stroke-width="0.7"/>
<line x1="104.5" y1="89.8" x2="104.5" y2="114.5" stroke="#1e1e1e" stroke-width="0.7"/>
<line x1="102" y1="96" x2="104" y2="96" stroke="#777" stroke-width="0.6"/>
<line x1="102" y1="100" x2="104" y2="100" stroke="#777" stroke-width="0.6"/>
<line x1="102" y1="104" x2="104" y2="104" stroke="#777" stroke-width="0.6"/>
<line x1="102" y1="108" x2="104" y2="108" stroke="#777" stroke-width="0.6"/>
<rect x="101" y="84" width="4" height="5.6" fill="#1e1e1e"/>
<circle cx="99.75" cy="80" r="5.8" stroke="#1e1e1e" stroke-width="1.1" fill="#fff"/>
<line x1="94" y1="80.5" x2="105.5" y2="80.5" stroke="#1e1e1e" stroke-width="0.8"/>
<line x1="99.75" y1="74.2" x2="99.75" y2="85.8" stroke="#1e1e1e" stroke-width="0.8"/>
<rect x="99" y="78.3" width="8" height="5.7" rx="0" stroke="#1e1e1e" stroke-width="1.0" fill="#fff"/>
<line x1="99" y1="80.2" x2="107" y2="80.2" stroke="#1e1e1e" stroke-width="0.6"/>
<line x1="99" y1="82.1" x2="107" y2="82.1" stroke="#1e1e1e" stroke-width="0.6"/>
<rect x="387.75" y="94.6" width="63.15" height="14.6" rx="0" stroke="#1e1e1e" stroke-width="1.1" fill="#fff"/>
<line x1="447.5" y1="101.9" x2="389.5" y2="101.9" stroke="#aaa" stroke-width="0.5" stroke-dasharray="8 2 1.5 2"/>
<path d="M387.75,94.6 A26.9,26.9 0 0 0 360.85,121.5" stroke="#1e1e1e" stroke-width="1.1" fill="none"/>
<path d="M387.75,109.2 A12.3,12.3 0 0 0 375.45,121.5" stroke="#1e1e1e" stroke-width="0.9" fill="none"/>
<path d="M387.75,101.9 A19.6,19.6 0 0 0 368.15,121.5" stroke="#aaa" stroke-width="0.5" fill="none"/>
<circle cx="380.8" cy="117.5" r="5.2" stroke="#1e1e1e" stroke-width="1.0" fill="#fff"/>
<rect x="381" y="112.3" width="10.5" height="2.9" rx="0" stroke="#1e1e1e" stroke-width="0.9" fill="#fff"/>
<rect x="389.5" y="112" width="2.5" height="3.5" fill="#1e1e1e"/>
<rect x="361" y="117" width="15" height="10.7" rx="0" stroke="#1e1e1e" stroke-width="1.0" fill="#fff"/>
<line x1="361" y1="122" x2="376" y2="122" stroke="#1e1e1e" stroke-width="0.8"/>
<rect x="357" y="117.5" width="3" height="10.2" rx="0" stroke="#1e1e1e" stroke-width="0.8" fill="#fff"/>
<rect x="356.8" y="116.5" width="3.4" height="2" fill="#1e1e1e"/>
<rect x="375.5" y="117" width="2.6" height="23" fill="#1e1e1e"/>
<rect x="355" y="127.7" width="25.8" height="3.7" rx="0" stroke="#1e1e1e" stroke-width="1.0" fill="#fff"/>
<line x1="355" y1="129.5" x2="380.8" y2="129.5" stroke="#1e1e1e" stroke-width="0.7"/>
<ellipse cx="363" cy="126.6" rx="1.8" ry="1.2" fill="#1e1e1e"/>
<ellipse cx="371.5" cy="126.6" rx="1.8" ry="1.2" fill="#1e1e1e"/>
<ellipse cx="357.5" cy="133" rx="1.8" ry="1.4" fill="#1e1e1e"/>
<ellipse cx="363" cy="133" rx="1.8" ry="1.4" fill="#1e1e1e"/>
<ellipse cx="371.5" cy="133" rx="1.8" ry="1.4" fill="#1e1e1e"/>
<line x1="361" y1="131.4" x2="361" y2="137.5" stroke="#1e1e1e" stroke-width="0.9"/>
<line x1="376" y1="131.4" x2="376" y2="137.5" stroke="#1e1e1e" stroke-width="0.9"/>
<rect x="450.5" y="94.4" width="16.6" height="14.8" rx="2" stroke="#1e1e1e" stroke-width="1.0" fill="#fff"/>
<rect x="453.5" y="89.4" width="10.0" height="25.4" rx="0" stroke="#1e1e1e" stroke-width="1.0" fill="#fff"/>
<rect x="461.3" y="89.6" width="2" height="25" fill="#1e1e1e"/>
<rect x="453.7" y="89.6" width="2" height="25" fill="#1e1e1e"/>
<line x1="460.0" y1="89.8" x2="460.0" y2="114.5" stroke="#1e1e1e" stroke-width="0.7"/>
<line x1="457.0" y1="89.8" x2="457.0" y2="114.5" stroke="#1e1e1e" stroke-width="0.7"/>
<line x1="459.5" y1="96" x2="457.5" y2="96" stroke="#777" stroke-width="0.6"/>
<line x1="459.5" y1="100" x2="457.5" y2="100" stroke="#777" stroke-width="0.6"/>
<line x1="459.5" y1="104" x2="457.5" y2="104" stroke="#777" stroke-width="0.6"/>
<line x1="459.5" y1="108" x2="457.5" y2="108" stroke="#777" stroke-width="0.6"/>
<rect x="456.5" y="84" width="4" height="5.6" fill="#1e1e1e"/>
<circle cx="461.75" cy="80" r="5.8" stroke="#1e1e1e" stroke-width="1.1" fill="#fff"/>
<line x1="467.5" y1="80.5" x2="456.0" y2="80.5" stroke="#1e1e1e" stroke-width="0.8"/>
<line x1="461.75" y1="74.2" x2="461.75" y2="85.8" stroke="#1e1e1e" stroke-width="0.8"/>
<rect x="454.5" y="78.3" width="8.0" height="5.7" rx="0" stroke="#1e1e1e" stroke-width="1.0" fill="#fff"/>
<line x1="454.5" y1="80.2" x2="462.5" y2="80.2" stroke="#1e1e1e" stroke-width="0.6"/>
<line x1="454.5" y1="82.1" x2="462.5" y2="82.1" stroke="#1e1e1e" stroke-width="0.6"/>
<circle cx="183.5" cy="115.5" r="6.3" stroke="#1e1e1e" stroke-width="1.2" fill="#fff"/>
<line x1="180" y1="119.5" x2="187" y2="111.5" stroke="#1e1e1e" stroke-width="1.3"/>
<line x1="183.5" y1="121.8" x2="183.5" y2="150" stroke="#1e1e1e" stroke-width="1.5"/>
<rect x="182" y="126" width="3" height="5" rx="0" stroke="#1e1e1e" stroke-width="0.8" fill="#1e1e1e"/>
<rect x="171" y="112" width="6.5" height="2.3" rx="0" stroke="#1e1e1e" stroke-width="0.8" fill="#ddd"/>
<rect x="190" y="114.8" width="6.5" height="2.2" rx="0" stroke="#1e1e1e" stroke-width="0.8" fill="#ddd"/>
<circle cx="160" cy="140" r="4.8" stroke="#1e1e1e" stroke-width="1.3" fill="#fff"/>
<path d="M165,126 L165,141 Q165,150 172,151 L176,151" stroke="#1e1e1e" stroke-width="1.2" fill="none"/>
<line x1="160" y1="110" x2="160" y2="126" stroke="#999" stroke-width="0.5" stroke-dasharray="2 1.5"/>
<line x1="170" y1="110" x2="170" y2="126" stroke="#999" stroke-width="0.5" stroke-dasharray="2 1.5"/>
<line x1="162" y1="126" x2="168" y2="126" stroke="#1e1e1e" stroke-width="1.6"/>
<circle cx="401.3" cy="140" r="4.8" stroke="#1e1e1e" stroke-width="1.3" fill="#fff"/>
<path d="M396.5,126 L396.5,141 Q396.5,150 389.5,151 L386,151" stroke="#1e1e1e" stroke-width="1.2" fill="none"/>
<line x1="390" y1="110" x2="390" y2="126" stroke="#999" stroke-width="0.5" stroke-dasharray="2 1.5"/>
<line x1="402" y1="110" x2="402" y2="126" stroke="#999" stroke-width="0.5" stroke-dasharray="2 1.5"/>
<line x1="393.5" y1="126" x2="399.5" y2="126" stroke="#1e1e1e" stroke-width="1.6"/>
<polyline points="345,152 349,158" stroke="#1e1e1e" stroke-width="0.8" fill="none"/>
<circle cx="367.5" cy="240" r="54.3" stroke="#1e1e1e" stroke-width="1.0" fill="none"/>
<circle cx="367.5" cy="240" r="51.8" stroke="#aaa" stroke-width="0.6" fill="none" stroke-dasharray="2 1"/>
<circle cx="367.5" cy="187.0" r="1.3" fill="#1e1e1e"/>
<circle cx="404.98" cy="202.52" r="1.3" fill="#1e1e1e"/>
<circle cx="330.02" cy="202.52" r="1.3" fill="#1e1e1e"/>
<circle cx="416.29" cy="219.29" r="1.3" fill="#1e1e1e"/>
<circle cx="318.71" cy="219.29" r="1.3" fill="#1e1e1e"/>
<circle cx="416.29" cy="260.71" r="1.3" fill="#1e1e1e"/>
<circle cx="318.71" cy="260.71" r="1.3" fill="#1e1e1e"/>
<circle cx="367.5" cy="293.0" r="1.3" fill="#1e1e1e"/>
<circle cx="404.98" cy="277.48" r="1.3" fill="#1e1e1e"/>
<circle cx="330.02" cy="277.48" r="1.3" fill="#1e1e1e"/>
<circle cx="420.5" cy="240.0" r="1.3" fill="#1e1e1e"/>
<circle cx="314.5" cy="240.0" r="1.3" fill="#1e1e1e"/>
<line x1="298" y1="240" x2="434" y2="240" stroke="#a8a8a8" stroke-width="0.6" stroke-dasharray="5 1.8 1.5 1.8"/>
<line x1="344.5" y1="156" x2="344.5" y2="163" stroke="#1e1e1e" stroke-width="1.6"/>
<circle cx="344.5" cy="165" r="1.9" fill="#1e1e1e"/>
<path d="M341,198.2 A50,50 0 0 1 393.8,198.2" stroke="#1e1e1e" stroke-width="1.0" fill="none"/>
<rect x="341" y="198.2" width="52.8" height="15.0" rx="0" stroke="#1e1e1e" stroke-width="1.1" fill="none"/>
<line x1="341" y1="198.2" x2="393.8" y2="213.2" stroke="#1e1e1e" stroke-width="0.9"/>
<line x1="341" y1="213.2" x2="393.8" y2="198.2" stroke="#1e1e1e" stroke-width="0.9"/>
<line x1="343" y1="211.5" x2="392" y2="211.5" stroke="#999" stroke-width="0.5" stroke-dasharray="2 1"/>
<circle cx="341" cy="198.2" r="1.6" fill="#1e1e1e"/>
<circle cx="393.8" cy="198.2" r="1.6" fill="#1e1e1e"/>
<circle cx="341" cy="213.2" r="1.6" fill="#1e1e1e"/>
<circle cx="393.8" cy="213.2" r="1.6" fill="#1e1e1e"/>
<circle cx="359" cy="213.2" r="1.6" fill="#1e1e1e"/>
<circle cx="376" cy="213.2" r="1.6" fill="#1e1e1e"/>
<circle cx="359" cy="192" r="1.6" fill="#1e1e1e"/>
<circle cx="376" cy="192" r="1.6" fill="#1e1e1e"/>
<circle cx="367.5" cy="188.3" r="1.6" fill="#1e1e1e"/>
<circle cx="329.5" cy="205" r="1.6" fill="#1e1e1e"/>
<circle cx="405.5" cy="205" r="1.6" fill="#1e1e1e"/>
<circle cx="367.5" cy="240" r="20.6" stroke="#1e1e1e" stroke-width="1.2" fill="#fff"/>
<line x1="347" y1="240.2" x2="391.5" y2="240.2" stroke="#444" stroke-width="2.0"/>
<path d="M391,241 L393,241 L393,226.5 L396,226.5" stroke="#1e1e1e" stroke-width="1.5" fill="none"/>
<rect x="391.2" y="227" width="3.8" height="5" rx="0" stroke="#1e1e1e" stroke-width="0.9" fill="#888"/>
<line x1="349.3" y1="248" x2="385.7" y2="232" stroke="#333" stroke-width="0.6"/>
<polygon points="349.3,248 353.5,245.4 354.1,246.9" fill="#1e1e1e"/><polygon points="385.7,232 381.5,234.6 380.9,233.1" fill="#1e1e1e"/>
<text x="365.5" y="238.6" font-size="5.6" text-anchor="middle" fill="#333" font-style="italic" font-weight="normal" stroke="#333" stroke-width="0.25" transform="rotate(-24 365.5 238.6)" textLength="11" lengthAdjust="spacingAndGlyphs">Ø450</text>
<circle cx="334" cy="231.5" r="5.8" stroke="#1e1e1e" stroke-width="1.3" fill="#ccc"/>
<circle cx="334" cy="231.5" r="3.6" stroke="#777" stroke-width="0.7" fill="#eee"/>
<circle cx="333.5" cy="263.7" r="5.8" stroke="#1e1e1e" stroke-width="1.3" fill="#ccc"/>
<circle cx="333.5" cy="263.7" r="3.6" stroke="#777" stroke-width="0.7" fill="#eee"/>
<circle cx="401" cy="226.5" r="5.8" stroke="#1e1e1e" stroke-width="1.3" fill="#ccc"/>
<circle cx="401" cy="226.5" r="3.6" stroke="#777" stroke-width="0.7" fill="#eee"/>
<circle cx="401" cy="257.7" r="5.8" stroke="#1e1e1e" stroke-width="1.3" fill="#ccc"/>
<circle cx="401" cy="257.7" r="3.6" stroke="#777" stroke-width="0.7" fill="#eee"/>
<path d="M394,229 L395,229 L395,234 L392,234" stroke="#1e1e1e" stroke-width="1.4" fill="none"/>
<path d="M341,264.5 L393.8,264.5 L393.8,280 A50,50 0 0 1 341,280 Z" stroke="#1e1e1e" stroke-width="1.1" fill="none"/>
<line x1="344" y1="267" x2="344" y2="280" stroke="#999" stroke-width="0.5" stroke-dasharray="2 1"/>
<line x1="391" y1="267" x2="391" y2="280" stroke="#999" stroke-width="0.5" stroke-dasharray="2 1"/>
<rect x="349" y="267.5" width="4" height="12.0" rx="1" stroke="#1e1e1e" stroke-width="0.9" fill="#fff"/>
<rect x="382" y="267.5" width="4" height="12.0" rx="1" stroke="#1e1e1e" stroke-width="0.9" fill="#fff"/>
<circle cx="341" cy="264.5" r="1.6" fill="#1e1e1e"/>
<circle cx="393.8" cy="264.5" r="1.6" fill="#1e1e1e"/>
<circle cx="359" cy="264.5" r="1.6" fill="#1e1e1e"/>
<circle cx="376" cy="264.5" r="1.6" fill="#1e1e1e"/>
<circle cx="341" cy="280" r="1.6" fill="#1e1e1e"/>
<circle cx="393.8" cy="280" r="1.6" fill="#1e1e1e"/>
<circle cx="359" cy="285" r="1.6" fill="#1e1e1e"/>
<circle cx="376" cy="285" r="1.6" fill="#1e1e1e"/>
<circle cx="329.5" cy="275.5" r="1.6" fill="#1e1e1e"/>
<circle cx="405.5" cy="275.5" r="1.6" fill="#1e1e1e"/>
<circle cx="367.5" cy="291.5" r="2.6" stroke="#1e1e1e" stroke-width="1.5" fill="#888"/>
<rect x="351" y="297" width="11" height="3" rx="1.2" stroke="#1e1e1e" stroke-width="0.9" fill="#fff"/>
<rect x="345.5" y="295.5" width="4.0" height="5.5" rx="0" stroke="#1e1e1e" stroke-width="0.9" fill="#fff"/>
<line x1="347.5" y1="292" x2="347.5" y2="296" stroke="#1e1e1e" stroke-width="1.3"/>
<rect x="373" y="297" width="11" height="3" rx="1.2" stroke="#1e1e1e" stroke-width="0.9" fill="#fff"/>
<rect x="385.5" y="295.5" width="4.0" height="5.5" rx="0" stroke="#1e1e1e" stroke-width="0.9" fill="#fff"/>
<line x1="387.5" y1="292" x2="387.5" y2="296" stroke="#1e1e1e" stroke-width="1.3"/>
<g transform="rotate(-40 429 282)"><rect x="420.5" y="279" width="17" height="6" rx="1.5" stroke="#444" stroke-width="0.9" fill="#fff"/><rect x="435.5" y="278" width="2.5" height="8" fill="#333"/><line x1="421" y1="282.5" x2="436" y2="282.5" stroke="#555" stroke-width="0.6"/><line x1="432" y1="279.5" x2="432" y2="285.5" stroke="#333" stroke-width="0.7"/></g>
<path d="M428,270 Q436,262 444,272 Q442,284 446,292 Q438,292 432,300 Q424,296 418,300 Q416,286 422,280" stroke="#999" stroke-width="0.5" fill="none"/>
<rect x="436" y="238.3" width="84" height="3.7" rx="0" stroke="#1e1e1e" stroke-width="0.9" fill="#fff"/>
<path d="M436,238.3 Q432,238.3 432,240.15 Q432,242 436,242" stroke="#1e1e1e" stroke-width="0.9" fill="none"/>
<line x1="520" y1="238.3" x2="523" y2="242" stroke="#1e1e1e" stroke-width="0.5"/>
<rect x="479" y="242" width="4" height="58" rx="0" stroke="#1e1e1e" stroke-width="0.9" fill="#fff"/>
<path d="M479,300 Q479,305.5 485,305.5 L522,305.5 M483,300 Q483,302 485,302 L522,302" stroke="#1e1e1e" stroke-width="0.9" fill="none"/>
<rect x="478" y="248" width="6" height="3.5" rx="0" stroke="#1e1e1e" stroke-width="0.8" fill="#fff"/>
<rect x="478" y="282" width="6" height="3.5" rx="0" stroke="#1e1e1e" stroke-width="0.8" fill="#fff"/>
<rect x="478" y="253" width="5.5" height="2.6" fill="#1e1e1e"/>
<line x1="484" y1="251" x2="489.5" y2="251" stroke="#1e1e1e" stroke-width="1.6"/>
<line x1="489.5" y1="247.5" x2="489.5" y2="255" stroke="#1e1e1e" stroke-width="1.6"/>
<rect x="482" y="266.5" width="9" height="3.3" rx="0" stroke="#1e1e1e" stroke-width="0.8" fill="#fff"/>
<rect x="490" y="265" width="3" height="6.2" fill="#1e1e1e"/>
<rect x="493" y="266" width="4" height="4" rx="0" stroke="#1e1e1e" stroke-width="0.9" fill="#fff"/>
<line x1="494.8" y1="261" x2="494.8" y2="266" stroke="#1e1e1e" stroke-width="1.2"/>
<line x1="492" y1="261" x2="497.5" y2="261" stroke="#1e1e1e" stroke-width="1.5"/>
<circle cx="457" cy="264.8" r="6.3" stroke="#1e1e1e" stroke-width="1.2" fill="#fff"/>
<line x1="453.5" y1="268.5" x2="460.5" y2="261" stroke="#1e1e1e" stroke-width="1.3"/>
<path d="M457,271 L457,282 Q457,289 464,289 L479,289" stroke="#1e1e1e" stroke-width="1.6" fill="none"/>
<rect x="455.5" y="273" width="3.0" height="4" rx="0" stroke="#1e1e1e" stroke-width="0.8" fill="#1e1e1e"/>
<rect x="526.6" y="258" width="17.4" height="20" rx="2.5" stroke="#1e1e1e" stroke-width="1.1" fill="#fff"/>
<line x1="529.8" y1="259.5" x2="529.8" y2="275.5" stroke="#333" stroke-width="0.6"/>
<line x1="532.4" y1="259.5" x2="532.4" y2="275.5" stroke="#333" stroke-width="0.6"/>
<line x1="535.2" y1="259.5" x2="535.2" y2="275.5" stroke="#333" stroke-width="0.6"/>
<line x1="538" y1="259.5" x2="538" y2="275.5" stroke="#333" stroke-width="0.6"/>
<line x1="540.6" y1="259.5" x2="540.6" y2="275.5" stroke="#333" stroke-width="0.6"/>
<line x1="526.6" y1="275.5" x2="544" y2="275.5" stroke="#1e1e1e" stroke-width="0.8"/>
<rect x="544" y="265" width="3.5" height="10" rx="1" stroke="#1e1e1e" stroke-width="0.9" fill="#fff"/>
<rect x="528.5" y="278" width="12.5" height="12" rx="0" stroke="#1e1e1e" stroke-width="0.9" fill="#fff"/>
<line x1="530.6" y1="278" x2="530.6" y2="290" stroke="#1e1e1e" stroke-width="0.7"/>
<line x1="538.9" y1="278" x2="538.9" y2="290" stroke="#1e1e1e" stroke-width="0.7"/>
<rect x="528.5" y="290" width="13.0" height="20" rx="0" stroke="#1e1e1e" stroke-width="1.1" fill="#fff"/>
<line x1="528.5" y1="296" x2="541.5" y2="296" stroke="#777" stroke-width="0.6"/>
<line x1="528.5" y1="303" x2="541.5" y2="303" stroke="#777" stroke-width="0.6"/>
<line x1="535" y1="290" x2="535" y2="310" stroke="#777" stroke-width="0.6"/>
<rect x="522" y="297" width="3.5" height="13" rx="1" stroke="#1e1e1e" stroke-width="0.9" fill="#eee"/>
<rect x="544.5" y="297" width="3.5" height="13" rx="1" stroke="#1e1e1e" stroke-width="0.9" fill="#eee"/>
<line x1="525.5" y1="302" x2="528.5" y2="302" stroke="#1e1e1e" stroke-width="0.8"/>
<line x1="525.5" y1="305.5" x2="528.5" y2="305.5" stroke="#1e1e1e" stroke-width="0.8"/>
<path d="M548,302 L558,302 L560,305.5 L548,305.5" stroke="#1e1e1e" stroke-width="0.9" fill="none"/>
<line x1="526" y1="309.5" x2="544" y2="309.5" stroke="#1e1e1e" stroke-width="0.9"/>
<text x="297" y="128.8" font-size="7.0" text-anchor="start" fill="#222" font-style="italic" font-weight="normal" stroke="#222" stroke-width="0.25" textLength="29" lengthAdjust="spacingAndGlyphs">Отбор пара на</text>
<text x="293" y="137" font-size="7.0" text-anchor="start" fill="#222" font-style="italic" font-weight="normal" stroke="#222" stroke-width="0.25" textLength="40" lengthAdjust="spacingAndGlyphs">собственные нужды</text>
<line x1="293" y1="131" x2="336" y2="131" stroke="#666" stroke-width="0.6"/>
<line x1="336" y1="131" x2="344.5" y2="158" stroke="#555" stroke-width="0.6"/>
<text x="263" y="174.8" font-size="7.0" text-anchor="start" fill="#222" font-style="italic" font-weight="normal" stroke="#222" stroke-width="0.25" textLength="39.5" lengthAdjust="spacingAndGlyphs">Лючки для обдувки</text>
<line x1="263" y1="176.3" x2="307" y2="176.3" stroke="#666" stroke-width="0.6"/>
<line x1="307" y1="176.3" x2="401" y2="226.5" stroke="#444" stroke-width="0.55"/>
<line x1="307" y1="176.3" x2="401" y2="257.7" stroke="#444" stroke-width="0.55"/>
<line x1="307" y1="176.3" x2="334" y2="231.5" stroke="#444" stroke-width="0.55"/>
<line x1="307" y1="176.3" x2="333.5" y2="263.7" stroke="#444" stroke-width="0.55"/>
<text x="459" y="216.8" font-size="7.0" text-anchor="start" fill="#222" font-style="italic" font-weight="normal" stroke="#222" stroke-width="0.25" textLength="36" lengthAdjust="spacingAndGlyphs">Клапан Взрывной</text>
<line x1="455" y1="218.2" x2="498" y2="218.2" stroke="#666" stroke-width="0.6"/>
<line x1="455" y1="218.2" x2="384" y2="201.5" stroke="#444" stroke-width="0.55"/>
<text x="520" y="228.2" font-size="7.0" text-anchor="start" fill="#222" font-style="italic" font-weight="normal" stroke="#222" stroke-width="0.25" textLength="39.3" lengthAdjust="spacingAndGlyphs">Линия подключения</text>
<text x="523" y="236.2" font-size="7.0" text-anchor="start" fill="#222" font-style="italic" font-weight="normal" stroke="#222" stroke-width="0.25" textLength="32" lengthAdjust="spacingAndGlyphs">второго насоса</text>
<line x1="514.7" y1="229.7" x2="569.3" y2="229.7" stroke="#777" stroke-width="0.6"/>
<line x1="514.7" y1="229.7" x2="502" y2="238.3" stroke="#444" stroke-width="0.55"/>
<text x="315" y="325.2" font-size="7.0" text-anchor="start" fill="#222" font-style="italic" font-weight="normal" stroke="#222" stroke-width="0.25" textLength="9.5" lengthAdjust="spacingAndGlyphs">Слив</text>
<line x1="313" y1="326" x2="326" y2="326" stroke="#666" stroke-width="0.6"/>
<line x1="326" y1="326" x2="348" y2="300" stroke="#444" stroke-width="0.55"/>
<text x="279.7" y="350.3" font-size="7.0" text-anchor="start" fill="#222" font-style="italic" font-weight="normal" stroke="#222" stroke-width="0.25" textLength="54" lengthAdjust="spacingAndGlyphs">Штуцер для слива шлама</text>
<text x="295" y="358.6" font-size="7.0" text-anchor="start" fill="#222" font-style="italic" font-weight="normal" stroke="#222" stroke-width="0.25" textLength="25" lengthAdjust="spacingAndGlyphs">при обдувки</text>
<line x1="277" y1="352.3" x2="334" y2="352.3" stroke="#666" stroke-width="0.6"/>
<line x1="334" y1="352.3" x2="367.5" y2="292" stroke="#444" stroke-width="0.55"/>
<text x="405.6" y="322.9" font-size="7.0" text-anchor="start" fill="#222" font-style="italic" font-weight="normal" stroke="#222" stroke-width="0.25" textLength="17.4" lengthAdjust="spacingAndGlyphs">Продувка</text>
<line x1="403" y1="324.4" x2="427" y2="324.4" stroke="#666" stroke-width="0.6"/>
<line x1="403" y1="324.4" x2="389" y2="299" stroke="#444" stroke-width="0.55"/>
<text x="144" y="173" font-size="4" text-anchor="start" fill="#333" font-style="italic" font-weight="normal"></text>
</svg></body></html>
